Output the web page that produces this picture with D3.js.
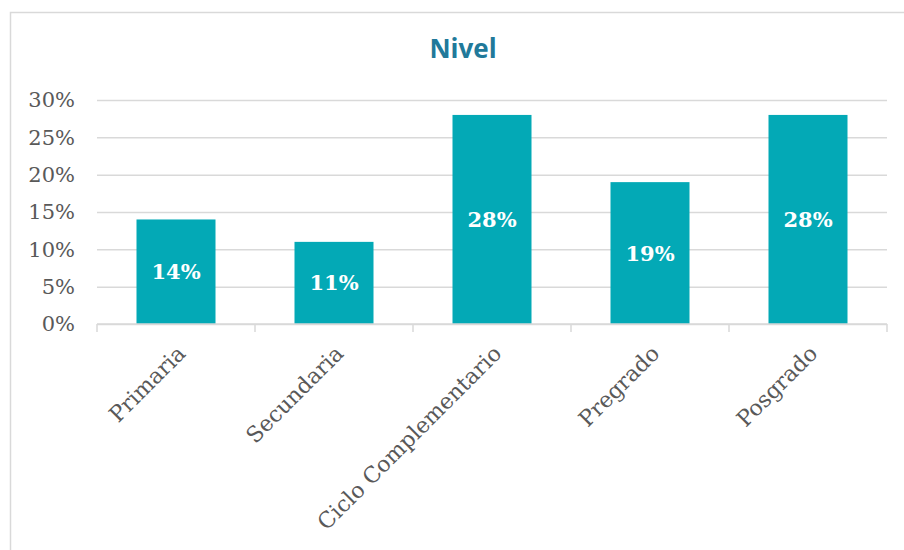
<!DOCTYPE html>
<html>
<head>
<meta charset="utf-8">
<script src="https://cdn.jsdelivr.net/npm/d3@7"></script>
<style>
  body { margin: 0; background: #fff; }
</style>
</head>
<body>
<div id="chart-area"></div>
<script>
// data
var categories = ["Primaria", "Secundaria", "Ciclo Complementario", "Pregrado", "Posgrado"];
var shares = [0.14, 0.11, 0.28, 0.19, 0.28];
var yTicks = [0, 0.05, 0.10, 0.15, 0.20, 0.25, 0.30];

var svg = d3.select("#chart-area").append("svg")
    .attr("width", 904)
    .attr("height", 550);

// chart frame
svg.append("rect")
    .attr("x", 10.5).attr("y", 12.5)
    .attr("width", 910).attr("height", 560)
    .attr("fill", "#fff")
    .attr("stroke", "#d9d9d9")
    .attr("stroke-width", 1.5);

// title
svg.append("text")
    .attr("x", 463).attr("y", 58)
    .attr("text-anchor", "middle")
    .attr("font-family", "Open Sans, sans-serif")
    .attr("font-weight", 700)
    .attr("font-size", "26px")
    .attr("fill", "#21799a")
    .text("Nivel");

var x = d3.scaleBand()
    .domain(categories)
    .range([97, 887])
    .paddingInner(0.5)
    .paddingOuter(0.25);

var y = d3.scaleLinear()
    .domain([0, 0.30])
    .range([324, 100]);

// gridlines
svg.append("g")
    .attr("transform", "translate(97,0)")
    .call(d3.axisLeft(y).tickValues(yTicks).tickSize(-790).tickFormat(""))
    .call(g => g.select(".domain").remove())
    .call(g => g.selectAll("line").attr("stroke", "#d9d9d9").attr("stroke-width", 1.5));

// y labels
svg.append("g")
    .attr("transform", "translate(97,0)")
    .call(d3.axisLeft(y).tickValues(yTicks).tickSize(0).tickPadding(22).tickFormat(d3.format(".0%")))
    .call(g => g.select(".domain").remove())
    .call(g => g.selectAll("text")
        .attr("font-family", "DejaVu Serif, serif")
        .attr("font-size", "21px")
        .attr("fill", "#595959"));

// bars
svg.selectAll("rect.bar")
    .data(categories)
    .enter()
    .append("rect")
    .attr("class", "bar")
    .attr("x", d => x(d))
    .attr("y", (d, i) => y(shares[i]))
    .attr("width", x.bandwidth())
    .attr("height", (d, i) => y(0) - y(shares[i]))
    .attr("fill", "#03a9b6");

// value labels inside bars
svg.selectAll("text.val")
    .data(categories)
    .enter()
    .append("text")
    .attr("class", "val")
    .attr("x", d => x(d) + x.bandwidth() / 2)
    .attr("y", (d, i) => (y(shares[i]) + y(0)) / 2)
    .attr("dy", "0.36em")
    .attr("text-anchor", "middle")
    .attr("font-family", "DejaVu Serif, serif")
    .attr("font-weight", 700)
    .attr("font-size", "21px")
    .attr("fill", "#fff")
    .text((d, i) => d3.format(".0%")(shares[i]));

// x axis line with boundary ticks
var edges = [97].concat(categories.map(d => x(d) + x.bandwidth() / 2 + x.step() / 2));
var axis = svg.append("g");
axis.append("line")
    .attr("x1", 97).attr("x2", 887)
    .attr("y1", 324).attr("y2", 324)
    .attr("stroke", "#d9d9d9").attr("stroke-width", 1.5);
axis.selectAll("line.tick")
    .data(edges)
    .enter()
    .append("line")
    .attr("class", "tick")
    .attr("x1", d => d).attr("x2", d => d)
    .attr("y1", 324).attr("y2", 332)
    .attr("stroke", "#d9d9d9").attr("stroke-width", 1.5);

// rotated category labels
axis.selectAll("text")
    .data(categories)
    .enter()
    .append("text")
    .attr("transform", d => `translate(${x(d) + x.bandwidth() / 2},344) rotate(-45)`)
    .attr("text-anchor", "end")
    .attr("dy", "0.7em")
    .attr("font-family", "DejaVu Serif, serif")
    .attr("font-size", "22px")
    .attr("fill", "#595959")
    .text(d => d);
</script>
</body>
</html>
